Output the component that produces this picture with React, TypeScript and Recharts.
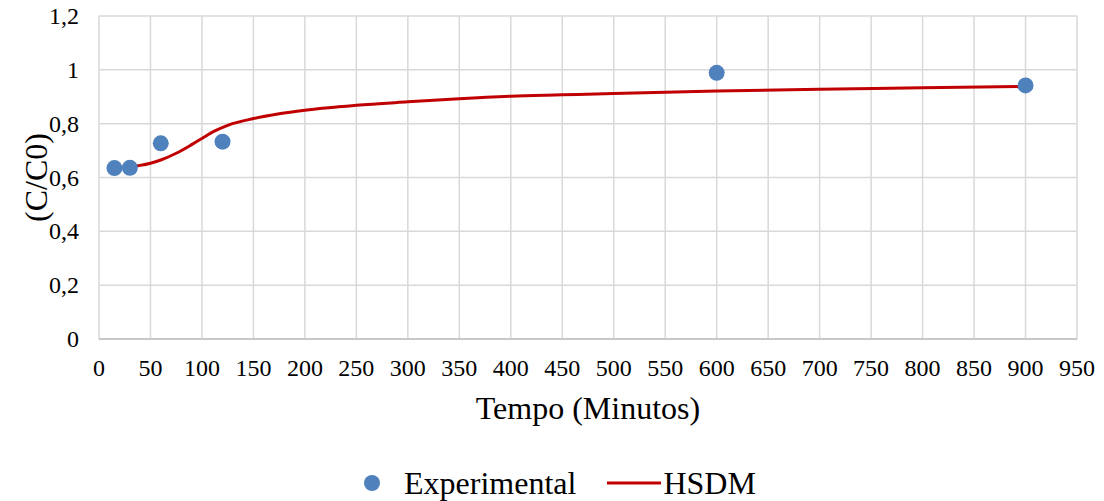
import {
  ComposedChart,
  CartesianGrid,
  XAxis,
  YAxis,
  Scatter,
  Line,
  Legend,
} from 'recharts';

// measured C/C0 values
const expTime = [15, 30, 60, 120, 600, 900];
const expRatio = [0.635, 0.636, 0.727, 0.733, 0.989, 0.942];

// HSDM model curve
const modelTime = [30, 40, 50, 60, 75, 90, 100, 112, 125, 150, 175, 200, 250, 300, 350, 400, 450, 500, 600, 700, 800, 900];
const modelRatio = [0.64, 0.645, 0.653, 0.665, 0.69, 0.722, 0.745, 0.772, 0.794, 0.819, 0.837, 0.85, 0.868, 0.881, 0.893, 0.902, 0.907, 0.912, 0.921, 0.928, 0.933, 0.938];

const xTicks = [0, 50, 100, 150, 200, 250, 300, 350, 400, 450, 500, 550, 600, 650, 700, 750, 800, 850, 900, 950];
const yTicks = [0, 0.2, 0.4, 0.6, 0.8, 1, 1.2];

const experimental = expTime.map((t, i) => ({ t, v: expRatio[i] }));
const hsdm = modelTime.map((t, i) => ({ t, v: modelRatio[i] }));

const FONT = '"Liberation Serif", "Times New Roman", serif';
const BLUE = '#4f81bd';
const RED = '#c00000';
const tickStyle = { fontFamily: FONT, fontSize: 24, fill: '#000' };

function LegendRow() {
  return (
    <div
      style={{
        display: 'flex',
        alignItems: 'center',
        paddingLeft: 363,
        fontFamily: FONT,
        fontSize: 32,
        lineHeight: '36px',
        color: '#000',
      }}
    >
      <svg width={18} height={18} style={{ marginRight: 23 }}>
        <circle cx={9} cy={9} r={8} fill={BLUE} />
      </svg>
      <span>Experimental</span>
      <svg width={54} height={6} style={{ marginLeft: 31, marginRight: 2 }}>
        <line x1={0} y1={3} x2={54} y2={3} stroke={RED} strokeWidth={3} />
      </svg>
      <span>HSDM</span>
    </div>
  );
}

const fmt = (v: number) => String(Number(v.toFixed(1))).replace('.', ',');

function XTick(props: any) {
  const { x, y, payload } = props;
  return (
    <text x={x} y={y + 35} textAnchor="middle" fontFamily={FONT} style={tickStyle}>
      {payload.value}
    </text>
  );
}

function YTick(props: any) {
  const { x, y, payload } = props;
  return (
    <text x={x - 18} y={y + 8} textAnchor="end" fontFamily={FONT} style={tickStyle}>
      {fmt(payload.value)}
    </text>
  );
}

export default function App() {
  return (
    <div style={{ position: 'fixed', left: 0, top: 0, background: '#fff', fontFamily: FONT }}>
      <ComposedChart
        width={1104}
        height={501}
        margin={{ top: 16, right: 27, bottom: 72, left: 0 }}
        style={{ fontFamily: FONT }}
      >
        <CartesianGrid stroke="#d9d9d9" strokeWidth={1.5} />
        <XAxis
          type="number"
          dataKey="t"
          domain={[0, 950]}
          ticks={xTicks}
          interval={0}
          height={90}
          tickLine={false}
          tickSize={0}
          axisLine={{ stroke: '#bfbfbf', strokeWidth: 1.5 }}
          tick={XTick}
          label={{
            value: 'Tempo (Minutos)',
            position: 'insideBottom',
            offset: 10,
            style: { fill: '#000', fontFamily: FONT, fontSize: 32 },
          }}
        />
        <YAxis
          type="number"
          dataKey="v"
          domain={[0, 1.2]}
          ticks={yTicks}
          interval={0}
          width={99}
          tickLine={false}
          axisLine={false}
          tickSize={0}
          tick={YTick}
          label={{
            value: '(C/C0)',
            angle: -90,
            position: 'insideLeft',
            offset: 36,
            style: { fill: '#000', fontFamily: FONT, fontSize: 32, textAnchor: 'middle' },
          }}
        />
        <Line
          data={hsdm}
          dataKey="v"
          type="monotone"
          stroke={RED}
          strokeWidth={3}
          dot={false}
          activeDot={false}
          isAnimationActive={false}
        />
        <Scatter
          data={experimental}
          dataKey="v"
          fill={BLUE}
          shape={(p: any) => <circle cx={p.cx} cy={p.cy} r={8} fill={BLUE} />}
          isAnimationActive={false}
        />
        <Legend
          layout="horizontal"
          verticalAlign="middle"
          wrapperStyle={{ top: 465, left: 0, width: 1104 }}
          content={() => <LegendRow />}
        />
      </ComposedChart>
    </div>
  );
}
